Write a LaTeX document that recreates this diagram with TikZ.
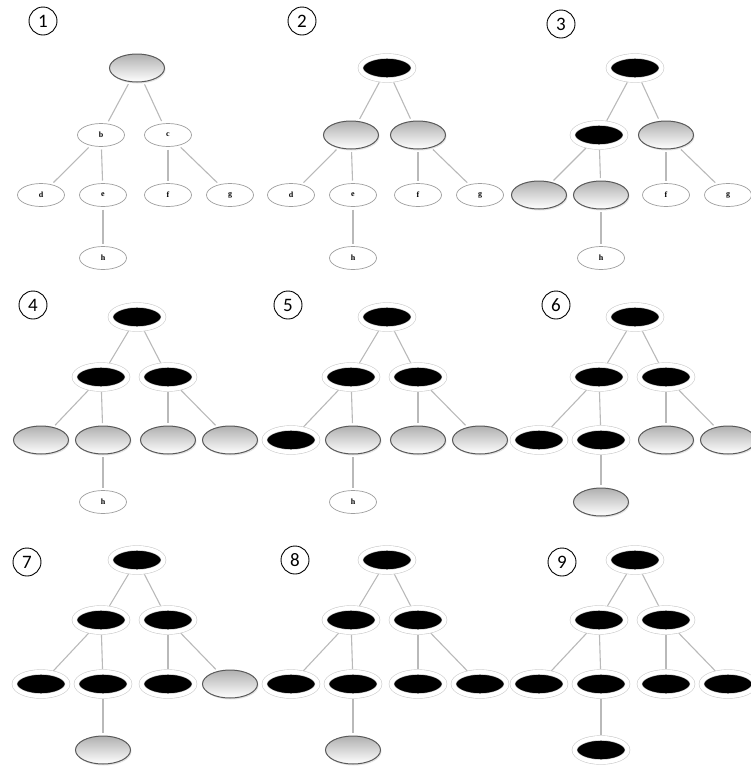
\documentclass[tikz,border=0pt]{standalone}
\usepackage{fontspec}
\setmainfont{Liberation Serif}
\newfontfamily\numfont{Carlito}
\usetikzlibrary{shapes.geometric,shadows,backgrounds}
\tikzset{
  nodebase/.style={ellipse, inner sep=0pt, outer sep=0pt},
  hidetext/.style={execute at begin node={\setbox0\hbox\bgroup}, execute at end node={\egroup}},
  wn/.style={nodebase, draw=gray!75, line width=0.7pt, fill=white,
    minimum width=47pt, minimum height=23pt, font=\fontsize{8}{8}\selectfont\bfseries},
  gn/.style={nodebase, hidetext, draw=black!65, line width=1pt,
    top color=gray!62, bottom color=white,
    minimum width=55pt, minimum height=28pt,
    drop shadow={shadow xshift=1pt, shadow yshift=-1.5pt, opacity=0.22}},
  bn/.style={nodebase, hidetext, fill=black, draw=gray!40, line width=0.6pt,
    double=white, double distance=4.2pt,
    minimum width=53pt, minimum height=24pt,
    drop shadow={shadow xshift=1.2pt, shadow yshift=-1.8pt, opacity=0.28}},
  edge/.style={draw=gray!55, line width=1.1pt, shorten <=3pt, shorten >=3pt},
  numlbl/.style={circle, draw=black, line width=0.9pt, minimum size=28pt, inner sep=0pt,
    font=\numfont\fontsize{19}{19}\selectfont}
}
\newcommand{\drawtree}[8]{%
  \node[#1] (r) at (137,\yr) {a};
  \node[#2] (b) at (101,\ym) {b};
  \node[#3] (c) at (168,\ym) {c};
  \node[#4] (d) at (41,\yl) {d};
  \node[#5] (e) at (103,\yl) {e};
  \node[#6] (f) at (168,\yl) {f};
  \node[#7] (g) at (230,\yl) {g};
  \node[#8] (h) at (103,\yh) {h};
  \begin{pgfonlayer}{background}
    \draw[edge] (r) -- (b);
    \draw[edge] (r) -- (c);
    \draw[edge] (b) -- (d);
    \draw[edge] (b) -- (e);
    \draw[edge] (c) -- (f);
    \draw[edge] (c) -- (g);
    \draw[edge] (e) -- (h);
  \end{pgfonlayer}%
}
\begin{document}
\begin{tikzpicture}[x=1pt, y=-1pt]
\useasboundingbox (0,0) rectangle (751,769);
% row 1
\def\yr{68}\def\ym{135}\def\yl{195}\def\yh{258}
\begin{scope}[name prefix=p1-]
  \drawtree{gn}{wn}{wn}{wn}{wn}{wn}{wn}{wn}
\end{scope}
\begin{scope}[shift={(250,0)}, name prefix=p2-]
  \drawtree{bn}{gn}{gn}{wn}{wn}{wn}{wn}{wn}
\end{scope}
\begin{scope}[shift={(498,0)}, name prefix=p3-]
  \drawtree{bn}{bn}{gn}{gn}{gn}{wn}{wn}{wn}
\end{scope}
% row 2
\def\yr{317}\def\ym{377}\def\yl{440}\def\yh{502}
\begin{scope}[name prefix=p4-]
  \drawtree{bn}{bn}{bn}{gn}{gn}{gn}{gn}{wn}
\end{scope}
\begin{scope}[shift={(250,0)}, name prefix=p5-]
  \drawtree{bn}{bn}{bn}{bn}{gn}{gn}{gn}{wn}
\end{scope}
\begin{scope}[shift={(498,0)}, name prefix=p6-]
  \drawtree{bn}{bn}{bn}{bn}{bn}{gn}{gn}{gn}
\end{scope}
% row 3
\def\yr{560}\def\ym{620}\def\yl{684}\def\yh{750}
\begin{scope}[name prefix=p7-]
  \drawtree{bn}{bn}{bn}{bn}{bn}{bn}{gn}{gn}
\end{scope}
\begin{scope}[shift={(250,0)}, name prefix=p8-]
  \drawtree{bn}{bn}{bn}{bn}{bn}{bn}{bn}{gn}
\end{scope}
\begin{scope}[shift={(498,0)}, name prefix=p9-]
  \drawtree{bn}{bn}{bn}{bn}{bn}{bn}{bn}{bn}
\end{scope}
% step numbers
\node[numlbl] (n1) at (43,21) {1};
\node[numlbl] (n2) at (302,21) {2};
\node[numlbl] (n3) at (561,24) {3};
\node[numlbl] (n4) at (33,305) {4};
\node[numlbl] (n5) at (288,305) {5};
\node[numlbl] (n6) at (556,305) {6};
\node[numlbl] (n7) at (27,562) {7};
\node[numlbl] (n8) at (295,560) {8};
\node[numlbl] (n9) at (562,562) {9};
\end{tikzpicture}
\end{document}
